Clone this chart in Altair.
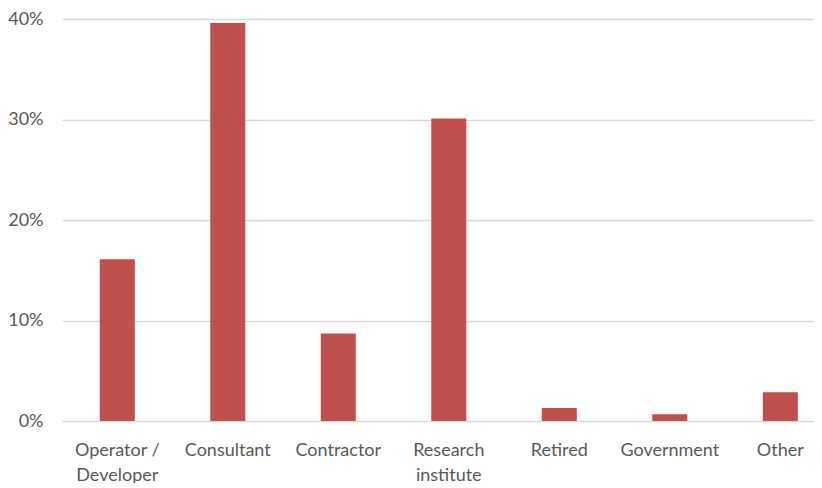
import altair as alt
import pandas as pd

categories = ["Operator /\nDeveloper", "Consultant", "Contractor", "Research\ninstitute",
              "Retired", "Government", "Other"]
shares = [0.161, 0.396, 0.087, 0.301, 0.013, 0.0066, 0.0285]
y_ticks = [0, 0.1, 0.2, 0.3, 0.4]

df = pd.DataFrame({"category": categories, "share": shares})

FONT = "Lato"
GREY = "#595959"

chart = alt.Chart(df).mark_bar(color="#C0504D").encode(
    x=alt.X("category:N", sort=categories,
            scale=alt.Scale(paddingInner=0.683, paddingOuter=0.244, align=0.70),
            axis=alt.Axis(title=None, labelAngle=0, ticks=False, domain=False,
                          labelExpr="split(datum.label, '\\n')",
                          labelFont=FONT, labelFontSize=18, labelColor=GREY,
                          labelFontWeight="normal",
                          labelPadding=20, labelLineHeight=25, labelBaseline="top")),
    y=alt.Y("share:Q", scale=alt.Scale(domain=[0, 0.4], nice=False),
            axis=alt.Axis(title=None, values=y_ticks, format=".0%", ticks=False, domain=False,
                          labelFont=FONT, labelFontSize=18, labelColor=GREY,
                          labelFontWeight="normal",
                          labelPadding=19, gridColor="#D9D9D9", gridWidth=1.5)),
).properties(
    width=752, height=402,
    autosize=alt.AutoSizeParams(type="none"),
    padding={"left": 54, "top": 11, "right": 0, "bottom": 62},
).configure_view(stroke=None)

chart.save("out.html", embed_options={"renderer": "svg", "actions": False})
